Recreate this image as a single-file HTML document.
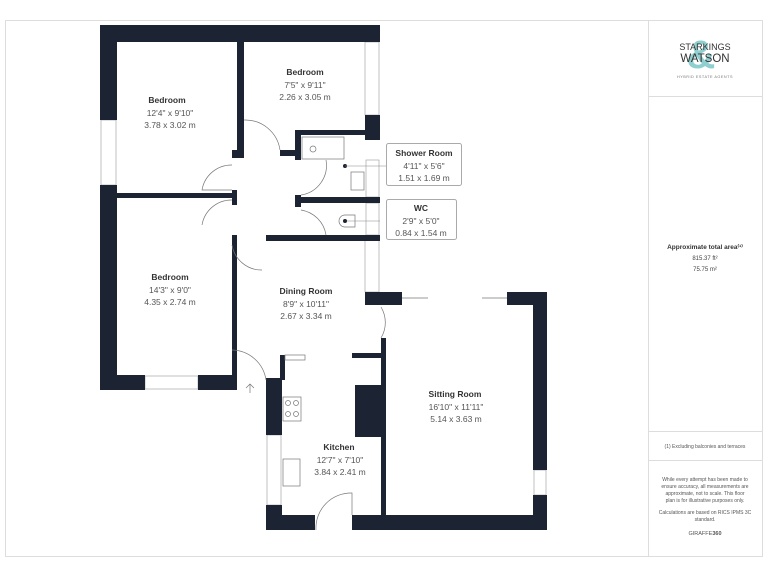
<!DOCTYPE html>
<html><head><meta charset="utf-8"><style>
body{margin:0;background:#fff;width:768px;height:576px;overflow:hidden;font-family:"Liberation Sans",sans-serif}
</style></head><body>
<svg width="768" height="576" viewBox="0 0 768 576" xmlns="http://www.w3.org/2000/svg" font-family="Liberation Sans, sans-serif">
<rect x="5.5" y="20.5" width="757" height="536" fill="none" stroke="#ddd"/>
<line x1="648.5" y1="20" x2="648.5" y2="556" stroke="#ddd"/>
<line x1="648" y1="96.5" x2="762" y2="96.5" stroke="#ddd"/>
<line x1="648" y1="431.5" x2="762" y2="431.5" stroke="#ddd"/>
<line x1="648" y1="460.5" x2="762" y2="460.5" stroke="#ddd"/>
<!-- logo -->
<text x="701" y="68" font-size="40" fill="#8fcfcf" font-weight="bold" text-anchor="middle">&amp;</text>
<text x="705" y="50" font-size="9" fill="#333" text-anchor="middle">STARKINGS</text>
<text x="705" y="62" font-size="11.5" fill="#333" text-anchor="middle">WATSON</text>
<text x="705" y="78" font-size="3.8" fill="#777" text-anchor="middle" letter-spacing="0.5">HYBRID ESTATE AGENTS</text>
<text x="705" y="249" font-size="6.5" font-weight="bold" fill="#333" text-anchor="middle">Approximate total area⁽¹⁾</text>
<text x="705" y="260" font-size="6" fill="#444" text-anchor="middle">815.37 ft²</text>
<text x="705" y="271" font-size="6" fill="#444" text-anchor="middle">75.75 m²</text>
<text x="705" y="448" font-size="5" fill="#555" text-anchor="middle">(1) Excluding balconies and terraces</text>
<g font-size="5" fill="#555" text-anchor="middle">
<text x="705" y="481">While every attempt has been made to</text>
<text x="705" y="488">ensure accuracy, all measurements are</text>
<text x="705" y="495">approximate, not to scale. This floor</text>
<text x="705" y="502">plan is for illustrative purposes only.</text>
<text x="705" y="514">Calculations are based on RICS IPMS 3C</text>
<text x="705" y="521">standard.</text>
<text x="705" y="535" font-size="5.5">GIRAFFE<tspan font-weight="bold">360</tspan></text>
</g>
<!-- windows -->
<g fill="#fff" stroke="#999" stroke-width="0.6">
<rect x="101" y="120" width="15" height="65"/>
<rect x="365" y="42" width="14" height="73"/>
<rect x="145" y="376" width="53" height="13"/>
<rect x="365" y="240" width="14" height="52"/>
<rect x="534" y="470" width="12" height="25"/>
<rect x="267" y="435" width="14" height="70"/>
<rect x="366" y="203" width="13" height="32"/>
<rect x="366" y="160" width="13" height="37"/>
</g>
<!-- walls -->
<g fill="#1c2433">
<rect x="100" y="25" width="280" height="17"/>
<rect x="100" y="25" width="17" height="95"/>
<rect x="100" y="185" width="17" height="205"/>
<rect x="100" y="375" width="45" height="15"/>
<rect x="198" y="375" width="39" height="15"/>
<rect x="365" y="115" width="15" height="25"/>
<rect x="237" y="42" width="7" height="113"/>
<rect x="232" y="150" width="12" height="8"/>
<rect x="117" y="193" width="115" height="5"/>
<rect x="232" y="190" width="5" height="15"/>
<rect x="232" y="235" width="5" height="155"/>
<rect x="295" y="130" width="70" height="5"/>
<rect x="295" y="130" width="6" height="30"/>
<rect x="280" y="150" width="15" height="6"/>
<rect x="295" y="197" width="85" height="6"/>
<rect x="295" y="195" width="6" height="12"/>
<rect x="266" y="235" width="114" height="6"/>
<rect x="365" y="292" width="37" height="13"/>
<rect x="507" y="292" width="40" height="13"/>
<rect x="533" y="292" width="14" height="178"/>
<rect x="533" y="495" width="14" height="35"/>
<rect x="352" y="515" width="195" height="15"/>
<rect x="381" y="338" width="5" height="192"/>
<rect x="355" y="385" width="27" height="52"/>
<rect x="352" y="353" width="30" height="5"/>
<rect x="266" y="378" width="16" height="57"/>
<rect x="280" y="355" width="5" height="25"/>
<rect x="266" y="505" width="16" height="25"/>
<rect x="266" y="515" width="49" height="15"/>
</g>
<!-- fixtures -->
<g fill="none" stroke="#777" stroke-width="0.7">
<rect x="302" y="137" width="42" height="22"/>
<circle cx="313" cy="149" r="3"/>
<rect x="351" y="172" width="13" height="18"/>
<path d="M345 215 h10 v12 h-10 a6 6 0 0 1 0 -12z"/>
<rect x="285" y="355" width="20" height="5"/>
<rect x="283" y="397" width="18" height="24"/>
<circle cx="288" cy="403" r="2.5"/><circle cx="296" cy="403" r="2.5"/>
<circle cx="288" cy="414" r="2.5"/><circle cx="296" cy="414" r="2.5"/>
<rect x="283" y="459" width="17" height="27"/>
<path d="M244 120 A35 35 0 0 1 280 150"/>
<path d="M232 165 A30 30 0 0 0 202 190 L232 190"/>
<path d="M232 200 A30 30 0 0 0 202 225"/>
<path d="M232 245 A30 30 0 0 0 262 270"/>
<path d="M301 195 A30 30 0 0 0 326 160"/>
<path d="M301 210 A30 30 0 0 1 326 235"/>
<path d="M232 350 A35 35 0 0 1 266 380"/>
<path d="M381 307 A30 30 0 0 1 381 338"/>
<path d="M316 530 A35 35 0 0 1 352 493 V515"/>
<line x1="402" y1="298" x2="428" y2="298"/>
<line x1="482" y1="298" x2="507" y2="298"/>
<path d="M250 393 V384 M246 388 L250 384 L254 388"/>
</g>
<line x1="345" y1="221" x2="380" y2="221" stroke="#888" stroke-width="0.6"/>
<circle cx="345" cy="221" r="2" fill="#1c2433"/>
<circle cx="345" cy="166" r="2" fill="#1c2433"/>
<line x1="345" y1="166" x2="386" y2="166" stroke="#888" stroke-width="0.6"/>
<rect x="386.5" y="143.5" width="75" height="42" fill="#fff" stroke="#aaa" rx="2"/>
<rect x="386.5" y="199.5" width="70" height="40" fill="#fff" stroke="#aaa" rx="2"/>
<g text-anchor="middle" fill="#333">
<g font-weight="bold" font-size="8.5">
<text x="167" y="103">Bedroom</text>
<text x="305" y="75">Bedroom</text>
<text x="424" y="156">Shower Room</text>
<text x="421" y="211">WC</text>
<text x="170" y="280">Bedroom</text>
<text x="306" y="294">Dining Room</text>
<text x="455" y="397">Sitting Room</text>
<text x="339" y="450">Kitchen</text>
</g>
<g font-size="8.5" fill="#555">
<text x="170" y="116">12'4" x 9'10"</text><text x="170" y="128">3.78 x 3.02 m</text>
<text x="305" y="88">7'5" x 9'11"</text><text x="305" y="100">2.26 x 3.05 m</text>
<text x="424" y="169">4'11" x 5'6"</text><text x="424" y="181">1.51 x 1.69 m</text>
<text x="421" y="224">2'9" x 5'0"</text><text x="421" y="236">0.84 x 1.54 m</text>
<text x="170" y="293">14'3" x 9'0"</text><text x="170" y="305">4.35 x 2.74 m</text>
<text x="306" y="307">8'9" x 10'11"</text><text x="306" y="319">2.67 x 3.34 m</text>
<text x="456" y="410">16'10" x 11'11"</text><text x="456" y="422">5.14 x 3.63 m</text>
<text x="340" y="463">12'7" x 7'10"</text><text x="340" y="475">3.84 x 2.41 m</text>
</g>
</g>
</svg>
</body></html>
